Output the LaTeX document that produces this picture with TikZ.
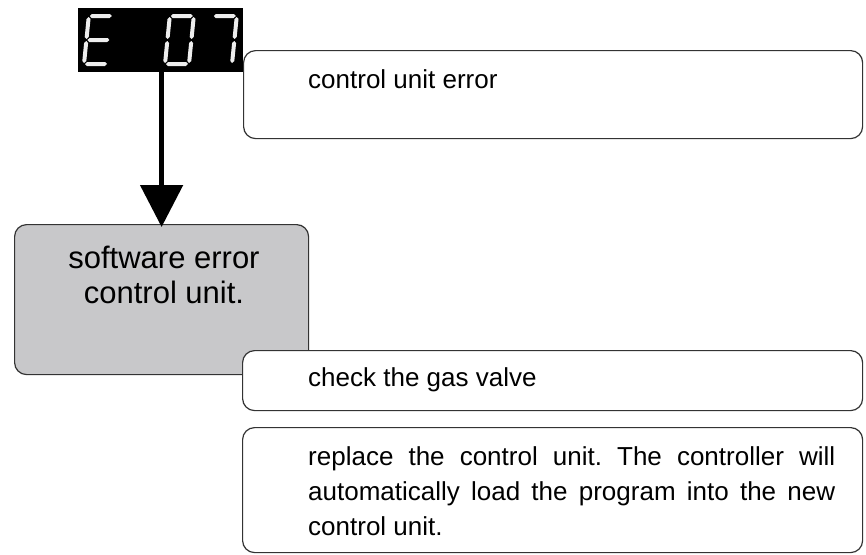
\documentclass[tikz,border=0pt]{standalone}
\usepackage{fontspec}
\setmainfont{Liberation Sans}
\usetikzlibrary{arrows.meta,calc}
\frenchspacing
\definecolor{boxline}{HTML}{333333}
\definecolor{grayfill}{HTML}{C8C8CA}
\definecolor{segc}{HTML}{EEEEEE}
\newcommand\dsegH[3]{\fill[segc] (#1,#3) -- (#1+2,#3+2) -- (#2-2,#3+2) -- (#2,#3) -- (#2-2,#3-2) -- (#1+2,#3-2) -- cycle;}
\newcommand\dsegV[3]{\fill[segc] (#1,#2) -- (#1+2,#2+2) -- (#1+2,#3-2) -- (#1,#3) -- (#1-2,#3-2) -- (#1-2,#2+2) -- cycle;}
\begin{document}
\begin{tikzpicture}[x=1pt,y=-1pt,
  box/.style={draw=boxline, line width=1.2pt, rounded corners=12pt, fill=white, inner sep=0pt, anchor=north west},
  txt/.style={inner sep=0pt, font=\fontsize{26}{35}\selectfont},
  digit/.style={shift={#1}, x=1pt, y=1pt, xslant=0.1}]
\useasboundingbox (0,0) rectangle (866,554);
% top box
\node[box, minimum width=619pt, minimum height=88pt] (cue) at (243,50) {};
\node[txt, anchor=base west] (cuet) at (308,88) {control unit error};
% display
\node[fill=black, inner sep=0pt, minimum width=165pt, minimum height=64pt, anchor=north west] (disp) at (78,8) {};
\begin{scope}[digit={(84,64)}]
  \dsegH{1}{23}{48}\dsegH{1}{23}{24}\dsegH{1}{23}{0}
  \dsegV{0}{25}{47}\dsegV{0}{1}{23}
\end{scope}
\begin{scope}[digit={(165,64)}]
  \dsegH{1}{23}{48}\dsegH{1}{23}{0}
  \dsegV{0}{25}{47}\dsegV{0}{1}{23}\dsegV{24}{25}{47}\dsegV{24}{1}{23}
\end{scope}
\begin{scope}[digit={(208,64)}]
  \dsegH{1}{23}{48}
  \dsegV{24}{25}{47}\dsegV{24}{1}{23}
\end{scope}
% gray box
\node[box, fill=grayfill, minimum width=294pt, minimum height=150pt] (sw) at (14,224) {};
\node[inner sep=0pt, align=center, anchor=north, font=\fontsize{31}{35}\selectfont] (swt) at (164,246) {software error\\control unit.};
% arrow
\draw[line width=5pt, -{Triangle[width=42pt,length=42pt]}] (disp.south -| sw.north) -- ([yshift=-3pt]sw.north);
% check box
\node[box, minimum width=620pt, minimum height=60pt] (chk) at (242,350) {};
\node[txt, anchor=base west] (chkt) at (308,386) {check the gas valve};
% replace box
\node[box, minimum width=620pt, minimum height=125pt] (rep) at (242,427) {};
\node[txt, anchor=north west, text width=527pt, align=justify] (rept) at (308,446) {\hyphenpenalty=10000 replace the control unit. The controller will\linebreak automatically load the program into the new\linebreak control unit.};
\end{tikzpicture}
\end{document}
